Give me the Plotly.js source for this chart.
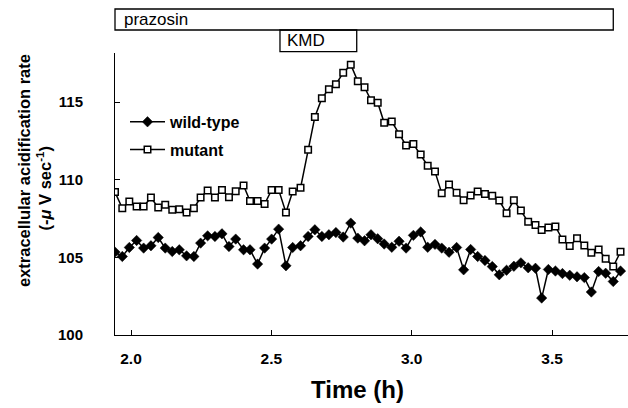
<!DOCTYPE html>
<html>
<head>
<meta charset="utf-8">
<script src="https://cdn.plot.ly/plotly-3.0.1.min.js"></script>
<style>html,body{margin:0;padding:0;background:#fff;}#chart{width:628px;height:408px;}</style>
</head>
<body>
<div id="chart"></div>
<script>
// Time (h) of each reading
const timeH = [1.943,1.969,1.994,2.020,2.045,2.071,2.097,2.122,2.147,2.172,2.198,2.224,2.248,2.273,2.299,2.324,2.349,2.373,2.401,2.424,2.451,2.476,2.501,2.526,2.552,2.576,2.604,2.631,2.655,2.680,2.705,2.730,2.756,2.783,2.808,2.832,2.855,2.879,2.902,2.929,2.955,2.980,3.006,3.032,3.057,3.083,3.107,3.133,3.160,3.185,3.210,3.235,3.261,3.287,3.312,3.338,3.364,3.389,3.415,3.441,3.463,3.487,3.512,3.537,3.563,3.589,3.615,3.640,3.666,3.691,3.718,3.744];
// extracellular acidification rate, wild-type
const wildType = [105.34,105.06,105.64,106.09,105.60,105.75,106.28,105.60,105.38,105.49,105.10,105.06,105.92,106.39,106.35,106.52,105.70,106.18,105.49,105.49,104.57,105.60,106.18,106.82,104.46,105.64,105.75,106.35,106.78,106.35,106.46,106.60,106.31,107.21,106.24,106.07,106.46,106.20,105.86,105.65,106.04,105.60,106.42,106.64,105.65,105.84,105.60,105.33,105.64,104.20,105.51,105.06,104.80,104.41,103.88,104.17,104.43,104.65,104.33,104.30,102.38,104.22,104.12,103.96,103.85,103.75,103.70,102.77,104.09,103.98,103.45,104.12];
// extracellular acidification rate, mutant
const mutant = [109.21,108.17,108.60,108.28,108.28,108.86,108.21,108.39,108.07,108.11,107.89,108.17,108.86,109.31,108.86,109.35,108.88,109.27,109.64,108.63,108.63,108.44,109.35,109.35,107.89,109.24,109.48,111.93,114.05,115.26,115.84,116.16,116.89,117.42,116.35,115.97,115.12,114.97,113.67,113.75,112.94,112.21,112.30,111.63,110.91,110.53,109.14,109.69,109.16,108.69,108.99,109.24,109.08,108.98,108.66,107.85,108.69,108.02,107.29,107.08,106.76,106.93,106.99,106.15,105.73,106.24,105.77,105.30,105.51,104.92,104.41,105.36];
const seriesNames = ['wild-type','mutant'];
const xTicks = [2.0,2.5,3.0,3.5];
const xTickLabels = ['2.0','2.5','3.0','3.5'];
const yTicks = [100,105,110,115];
const yTickLabels = ['100','105','110','115'];

const FONT = '"Liberation Sans", Arial, Helvetica, sans-serif';

const traces = [
  {
    x: timeH, y: wildType, name: seriesNames[0], type: 'scatter', mode: 'lines+markers',
    line: {color: '#000', width: 1.5},
    marker: {symbol: 'diamond', size: 8, color: '#000', line: {color: '#000', width: 0.5}},
    legendgroup: 'a'
  },
  {
    x: timeH, y: mutant, name: seriesNames[1], type: 'scatter', mode: 'lines+markers',
    line: {color: '#000', width: 1.5},
    marker: {symbol: 'square', size: 6.5, color: '#fff', line: {color: '#000', width: 1.5}},
    legendgroup: 'b'
  }
];

const layout = {
  width: 628, height: 408,
  margin: {l: 115, r: 0, t: 53, b: 73, pad: 0},
  paper_bgcolor: '#fff', plot_bgcolor: '#fff',
  font: {family: FONT, color: '#000'},
  showlegend: true,
  legend: {
    x: 0.0195, y: 0.816, xanchor: 'left', yanchor: 'top',
    bgcolor: 'rgba(0,0,0,0)', borderwidth: 0,
    font: {family: FONT, size: 16, color: '#000', weight: 'bold'},
    itemwidth: 35, tracegroupgap: 4, traceorder: 'grouped'
  },
  xaxis: {
    range: [1.943, 3.7706], tickvals: xTicks, ticktext: xTickLabels,
    ticks: 'inside', ticklen: 5, tickwidth: 1, tickcolor: '#000',
    showline: true, linecolor: '#000', linewidth: 1, showgrid: false, zeroline: false,
    tickfont: {family: FONT, size: 15.5, color: '#000', weight: 'bold'},
    ticklabelstandoff: 9
  },
  yaxis: {
    range: [100, 118.17], tickvals: yTicks, ticktext: yTickLabels,
    ticks: 'inside', ticklen: 5, tickwidth: 1, tickcolor: '#000',
    showline: true, linecolor: '#000', linewidth: 1, showgrid: false, zeroline: false,
    tickfont: {family: FONT, size: 15, color: '#000', weight: 'bold'},
    ticklabelstandoff: 28
  },
  shapes: [
    {type: 'rect', xref: 'paper', yref: 'paper', x0: 0, x1: 0.9713, y0: 1.0816, y1: 1.156,
     line: {color: '#000', width: 1.3}, fillcolor: 'rgba(0,0,0,0)'},
    {type: 'rect', xref: 'paper', yref: 'paper', x0: 0.3216, x1: 0.4712, y0: 1.0046, y1: 1.0816,
     line: {color: '#000', width: 1.3}, fillcolor: 'rgba(0,0,0,0)'}
  ],
  annotations: [
    {text: 'prazosin', xref: 'paper', yref: 'paper', x: 0.0146, y: 1.119, xanchor: 'left', yanchor: 'middle',
     showarrow: false, font: {family: FONT, size: 17, color: '#000'}},
    {text: 'KMD', xref: 'paper', yref: 'paper', x: 0.3314, y: 1.043, xanchor: 'left', yanchor: 'middle',
     showarrow: false, font: {family: FONT, size: 17, color: '#000'}},
    {text: 'extracellular acidification rate', xref: 'paper', yref: 'paper', x: -0.1774, y: 0.585,
     xanchor: 'center', yanchor: 'middle', textangle: -90, showarrow: false,
     font: {family: FONT, size: 16.5, color: '#000', weight: 'bold'}},
    {text: '(-<i>μ</i> V sec<sup>-1</sup>)', xref: 'paper', yref: 'paper', x: -0.1384, y: 0.5195,
     xanchor: 'center', yanchor: 'middle', textangle: -90, showarrow: false,
     font: {family: FONT, size: 16.5, color: '#000', weight: 'bold'}},
    {text: 'Time (h)', xref: 'paper', yref: 'paper', x: 0.4727, y: -0.195,
     xanchor: 'center', yanchor: 'middle', showarrow: false,
     font: {family: FONT, size: 24, color: '#000', weight: 'bold'}}
  ]
};

Plotly.newPlot('chart', traces, layout, {displayModeBar: false, staticPlot: true});
</script>
</body>
</html>
